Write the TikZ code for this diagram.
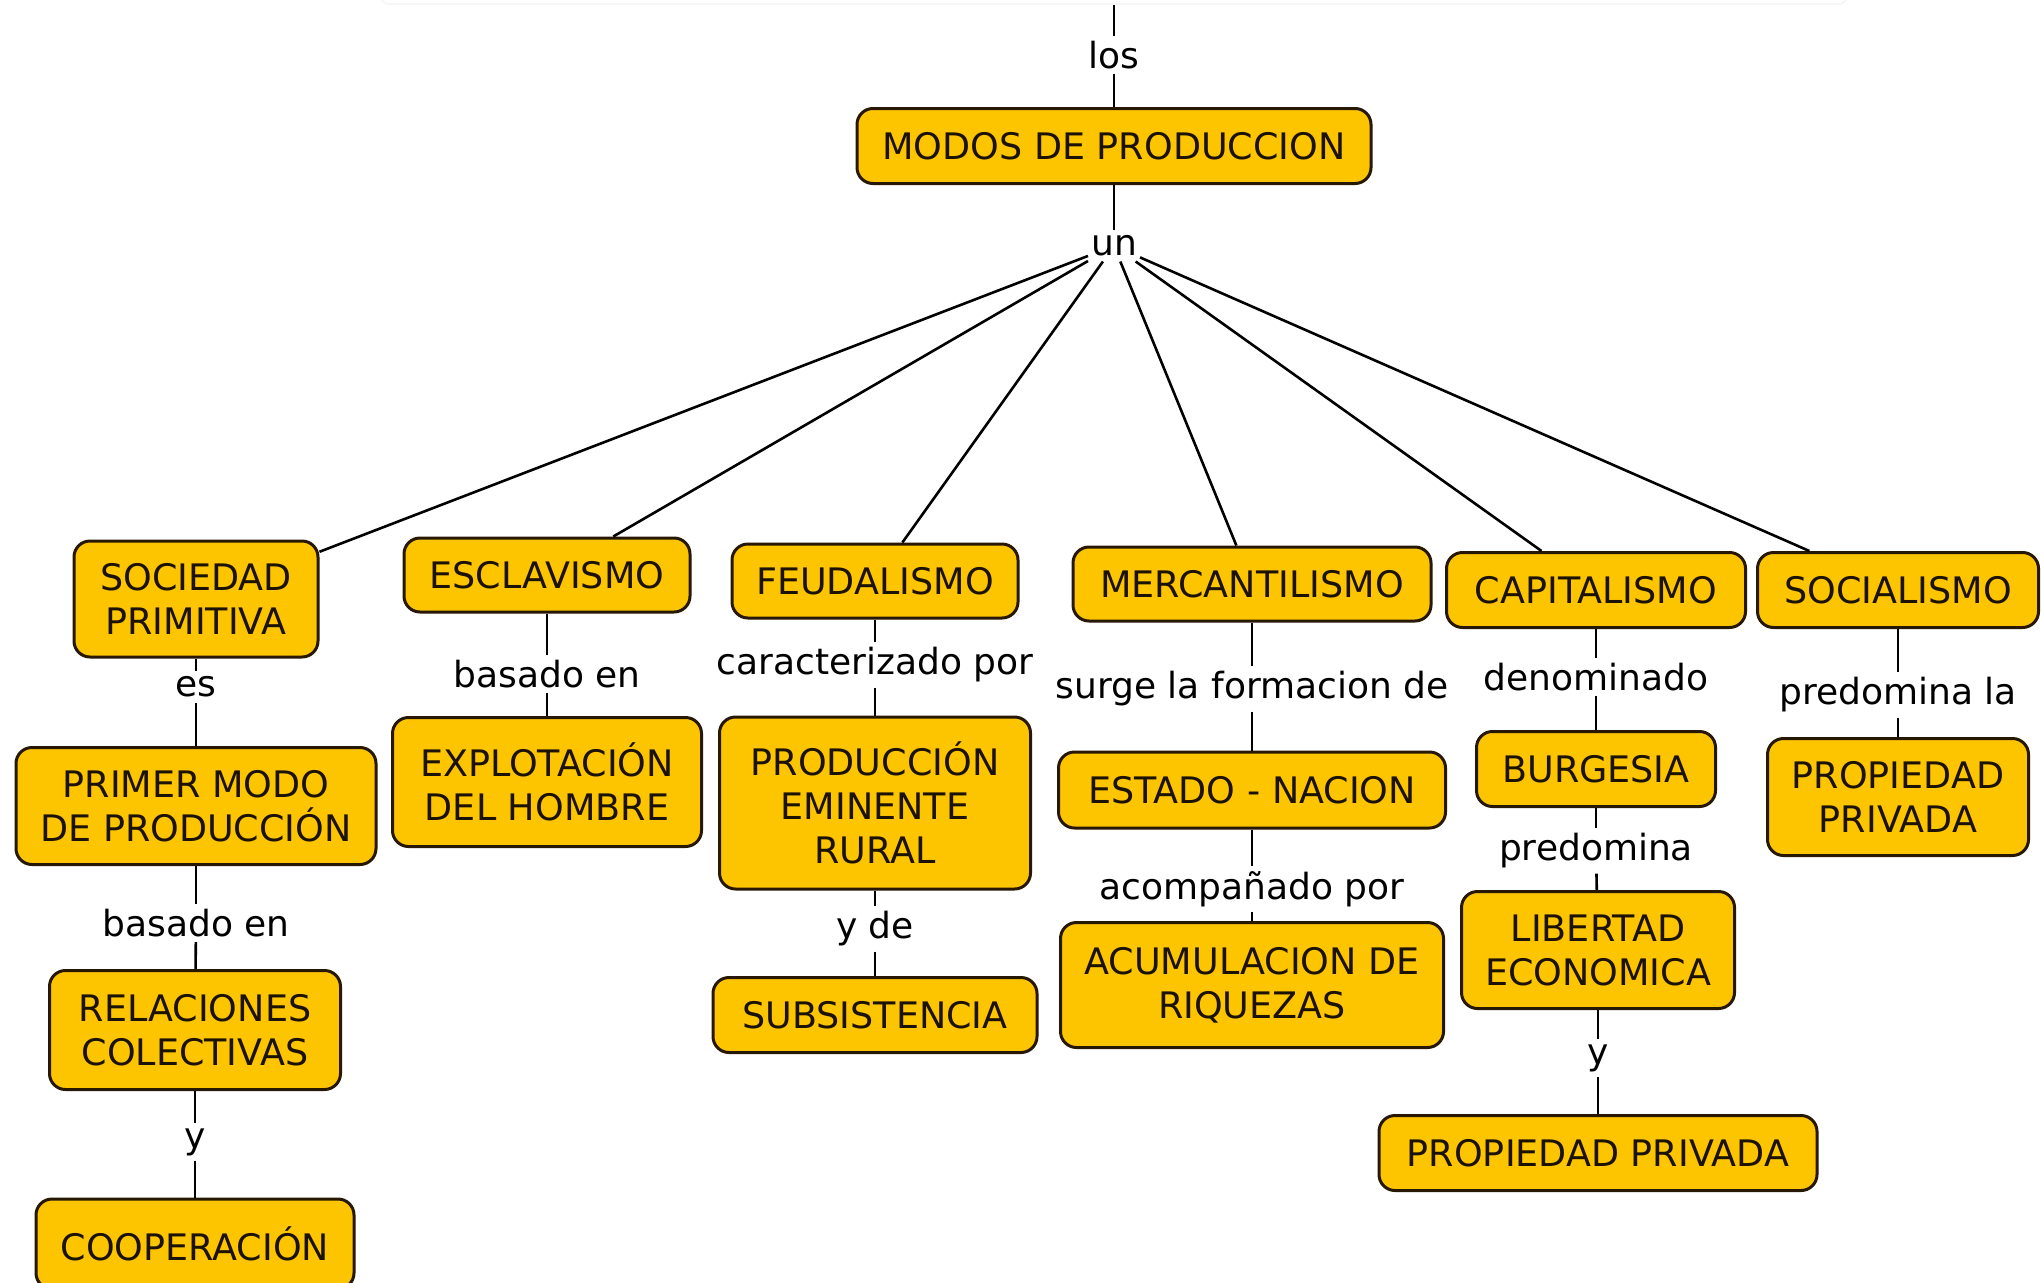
\documentclass[tikz,border=0pt]{standalone}
\usepackage{fontspec}
\setmainfont{DejaVu Sans}
\definecolor{gold}{RGB}{253,197,0}
\definecolor{edgec}{RGB}{38,24,4}
\definecolor{inkc}{RGB}{28,18,2}
\begin{document}
\begin{tikzpicture}[x=1pt,y=-1pt,
  concept/.style={draw=edgec, line width=3pt, fill=gold, rounded corners=16pt,
    align=center, text=inkc, font=\fontsize{36.5}{44}\selectfont, inner sep=0pt},
  linkp/.style={fill=white, inner xsep=3pt, inner ysep=5pt, text=black,
    font=\fontsize{36}{42}\selectfont},
  conn/.style={line width=2.6pt, black}]
\useasboundingbox (0,0) rectangle (2041,1282);
\clip (0,0) rectangle (2041,1282);
\fill[white] (0,0) rectangle (2041,1282);

% faint cut-off box at the top
\node[draw=gray!8, line width=1.5pt, rounded corners=8pt, minimum width=1466pt,
  minimum height=80pt, inner sep=0pt] (topbox) at (1114,-36) {};

% concepts
\node[concept, minimum width=514pt, minimum height=75pt] (modos) at (1114,146) {MODOS DE PRODUCCION};
\node[concept, minimum width=244pt, minimum height=116pt] (soc) at (196,599) {SOCIEDAD\\PRIMITIVA};
\node[concept, minimum width=286pt, minimum height=74pt] (esc) at (547,575) {ESCLAVISMO};
\node[concept, minimum width=286pt, minimum height=74pt] (feu) at (875,581) {FEUDALISMO};
\node[concept, minimum width=358pt, minimum height=74pt] (mer) at (1252,584) {MERCANTILISMO};
\node[concept, minimum width=299pt, minimum height=75pt] (cap) at (1596,590) {CAPITALISMO};
\node[concept, minimum width=281pt, minimum height=75pt] (soci) at (1898,590) {SOCIALISMO};
\node[concept, minimum width=360pt, minimum height=117pt] (pri) at (196,806) {PRIMER MODO\\DE PRODUCCIÓN};
\node[concept, minimum width=291pt, minimum height=119pt] (rel) at (195,1030) {RELACIONES\\COLECTIVAS};
\node[concept, minimum width=318pt, minimum height=90pt] (coo) at (195,1244) {COOPERACIÓN};
\node[concept, minimum width=309pt, minimum height=129pt] (expl) at (547,782) {EXPLOTACIÓN\\DEL HOMBRE};
\node[concept, minimum width=311pt, minimum height=172pt] (pro) at (875,803) {PRODUCCIÓN\\EMINENTE\\RURAL};
\node[concept, minimum width=324pt, minimum height=75pt] (sub) at (875,1015) {SUBSISTENCIA};
\node[concept, minimum width=387pt, minimum height=76pt] (est) at (1252,790) {ESTADO - NACION};
\node[concept, minimum width=383pt, minimum height=125pt] (acu) at (1252,985) {ACUMULACION DE\\RIQUEZAS};
\node[concept, minimum width=239pt, minimum height=75pt] (bur) at (1596,769) {BURGESIA};
\node[concept, minimum width=273pt, minimum height=117pt] (lib) at (1598,950) {LIBERTAD\\ECONOMICA};
\node[concept, minimum width=438pt, minimum height=75pt] (pp1) at (1598,1153) {PROPIEDAD PRIVADA};
\node[concept, minimum width=261pt, minimum height=117pt] (pp2) at (1898,797) {PROPIEDAD\\PRIVADA};

% linking phrases
\node[linkp] (los) at (1114,55) {los};
\node[linkp] (un) at (1114,246) {un};
\node[linkp] (es) at (196,687) {es};
\node[linkp] (bas1) at (196,923) {basado en};
\node[linkp] (y1) at (195,1142) {y};
\node[linkp] (bas2) at (547,674) {basado en};
\node[linkp] (car) at (875,665) {caracterizado por};
\node[linkp] (yde) at (875,929) {y de};
\node[linkp] (sur) at (1252,689) {surge la formacion de};
\node[linkp] (aco) at (1252,889) {acompañado por};
\node[linkp] (den) at (1596,677) {denominado};
\node[linkp] (pre) at (1596,851) {predomina};
\node[linkp] (y2) at (1598,1058) {y};
\node[linkp] (prela) at (1898,695) {predomina la};

% connectors
\draw[conn] (topbox) -- (los);
\draw[conn] (los) -- (modos);
\draw[conn] (modos) -- (un);
\foreach \t in {soc,esc,feu,mer,cap,soci} \draw[conn] (un) -- (\t);
\draw[conn] (soc) -- (es);  \draw[conn] (es) -- (pri);
\draw[conn] (pri) -- (bas1); \draw[conn] (bas1) -- (rel);
\draw[conn] (rel) -- (y1);  \draw[conn] (y1) -- (coo);
\draw[conn] (esc) -- (bas2); \draw[conn] (bas2) -- (expl);
\draw[conn] (feu) -- (car); \draw[conn] (car) -- (pro);
\draw[conn] (pro) -- (yde); \draw[conn] (yde) -- (sub);
\draw[conn] (mer) -- (sur); \draw[conn] (sur) -- (est);
\draw[conn] (est) -- (aco); \draw[conn] (aco) -- (acu);
\draw[conn] (cap) -- (den); \draw[conn] (den) -- (bur);
\draw[conn] (bur) -- (pre); \draw[conn] (pre) -- (lib);
\draw[conn] (lib) -- (y2);  \draw[conn] (y2) -- (pp1);
\draw[conn] (soci) -- (prela); \draw[conn] (prela) -- (pp2);
\end{tikzpicture}
\end{document}
